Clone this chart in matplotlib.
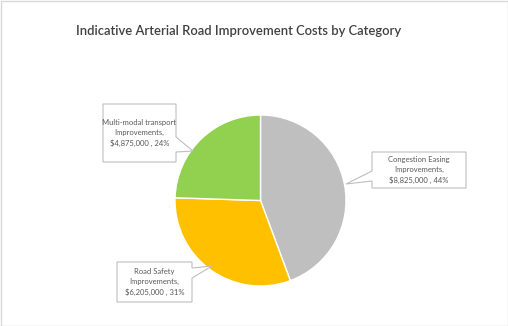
import matplotlib
matplotlib.use("Agg")
import matplotlib.pyplot as plt
from matplotlib.patches import Polygon, Rectangle

categories = ["Congestion Easing Improvements", "Road Safety Improvements", "Multi-modal transport Improvements"]
label_lines = [["Congestion Easing", "Improvements,"], ["Road Safety", "Improvements,"], ["Multi-modal transport", "Improvements,"]]
values = [8825000, 6205000, 4875000]
colors = ["#BFBFBF", "#FFC000", "#92D050"]
title = "Indicative Arterial Road Improvement Costs by Category"

W, H = 508, 326
fig = plt.figure(figsize=(W / 100, H / 100), dpi=100)
ax = fig.add_axes([0, 0, 1, 1])
ax.set_xlim(0, W)
ax.set_ylim(0, H)
ax.axis("off")

def Y(y):
    return H - y

# outer border
ax.add_patch(Rectangle((0.5, 0.5), W - 1, H - 1, fill=False, edgecolor="#D9D9D9", linewidth=1.0))

cx, cy, r = 260.5, Y(200.5), 85.5
ax.pie(values, colors=colors, startangle=90, counterclock=False, center=(cx, cy), radius=r,
       wedgeprops=dict(edgecolor="white", linewidth=1.0), frame=True)
ax.set_xlim(0, W)
ax.set_ylim(0, H)
ax.set_aspect("auto")
ax.axis("off")

fig.text(238.5 / W, 1 - 31 / H, title, ha="center", va="center", fontsize=9.4,
         color="#404040", family="Lato", fontweight="semibold")

total = sum(values)
callouts = [
    dict(box=(372, 152, 466, 188), side="left", base=(171, 181), tip=(346, 184)),
    dict(box=(117, 262, 192, 302), side="right", base=(268, 278), tip=(212, 266)),
    dict(box=(103, 104, 176, 162), side="right", base=(137, 152), tip=(193, 151)),
]
for lines, v, c in zip(label_lines, values, callouts):
    x0, y0, x1, y1 = c["box"]
    b0, b1 = c["base"]
    tx, ty = c["tip"]
    if c["side"] == "right":
        pts = [(x0, y0), (x1, y0), (x1, b0), (tx, ty), (x1, b1), (x1, y1), (x0, y1)]
    else:
        pts = [(x0, y0), (x1, y0), (x1, y1), (x0, y1), (x0, b1), (tx, ty), (x0, b0)]
    pts = [(px, Y(py)) for px, py in pts]
    ax.add_patch(Polygon(pts, closed=True, facecolor="white", edgecolor="#BFBFBF", linewidth=0.8, zorder=5))
    pct = round(v / total * 100)
    text = "\n".join(lines + [f"${v:,.0f} , {pct}%"])
    ax.text((x0 + x1) / 2, Y((y0 + y1) / 2), text, ha="center", va="center", fontsize=5.5,
            color="#595959", family="Lato", linespacing=1.5, zorder=6)

fig.savefig("out.png", dpi=100)
